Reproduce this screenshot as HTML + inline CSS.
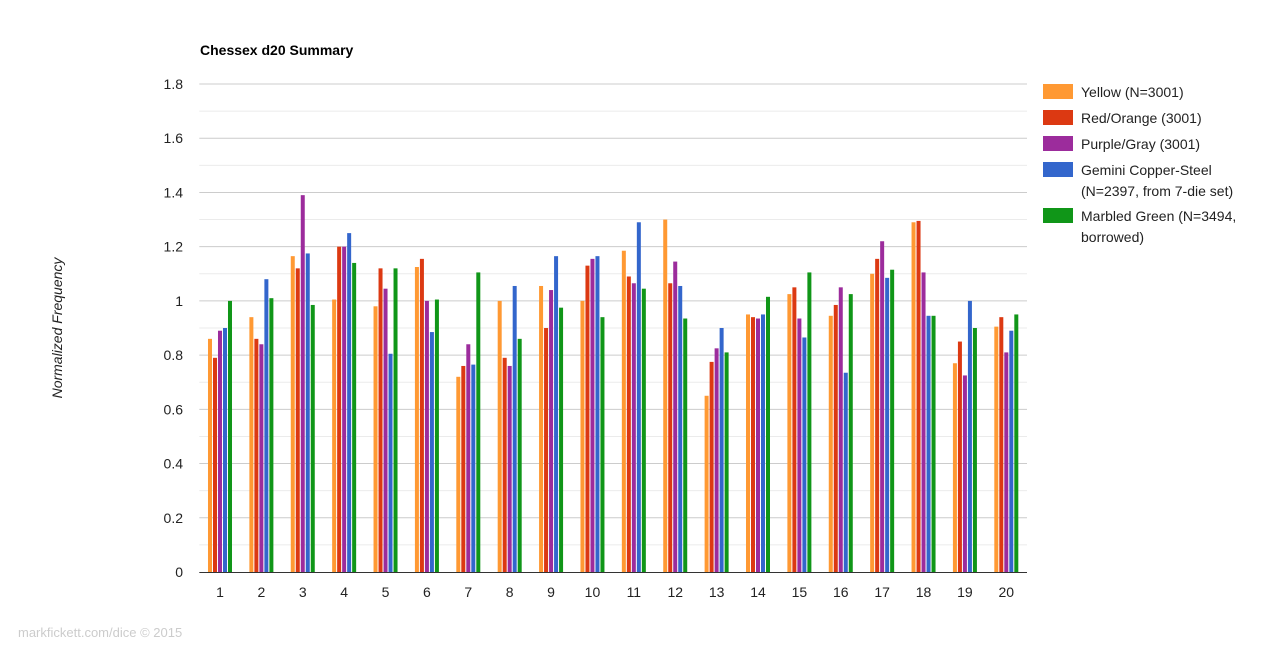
<!DOCTYPE html>
<html><head><meta charset="utf-8"><style>
body{margin:0;background:#fff;font-family:"Liberation Sans",Arial,sans-serif}
</style></head><body>
<svg width="1271" height="658" xmlns="http://www.w3.org/2000/svg" style="font-family:'Liberation Sans',Arial,sans-serif">
<text x="200" y="55" font-size="14" font-weight="bold" fill="#000">Chessex d20 Summary</text>
<text transform="translate(62,328) rotate(-90)" text-anchor="middle" font-size="14" font-style="italic" fill="#222">Normalized Frequency</text>
<text x="18" y="637" font-size="13" fill="#ccc">markfickett.com/dice © 2015</text>
<g id="grid"></g><g id="bars"></g><g id="xt"></g><g id="legend"></g>
</svg>
<script>
const categories=["1","2","3","4","5","6","7","8","9","10","11","12","13","14","15","16","17","18","19","20"];
const seriesNames=["Yellow (N=3001)","Red/Orange (3001)","Purple/Gray (3001)","Gemini Copper-Steel|(N=2397, from 7-die set)","Marbled Green (N=3494,|borrowed)"];
const yellow=[.86,.94,1.165,1.005,.98,1.125,.72,1.00,1.055,1.00,1.185,1.30,.65,.95,1.025,.945,1.10,1.29,.77,.905];
const red=[.79,.86,1.12,1.20,1.12,1.155,.76,.79,.90,1.13,1.09,1.065,.775,.94,1.05,.985,1.155,1.295,.85,.94];
const purple=[.89,.84,1.39,1.20,1.045,1.00,.84,.76,1.04,1.155,1.065,1.145,.825,.935,.935,1.05,1.22,1.105,.725,.81];
const blue=[.90,1.08,1.175,1.25,.805,.885,.765,1.055,1.165,1.165,1.29,1.055,.90,.95,.865,.735,1.085,.945,1.00,.89];
const green=[1.00,1.01,.985,1.14,1.12,1.005,1.105,.86,.975,.94,1.045,.935,.81,1.015,1.105,1.025,1.115,.945,.90,.95];
const yTicks=["0","0.2","0.4","0.6","0.8","1","1.2","1.4","1.6","1.8"];
const series=[yellow,red,purple,blue,green];
const colors=["#ff9933","#dc3912","#9c2c9c","#3366cc","#109618"];
const NS="http://www.w3.org/2000/svg";
const X0=199.3,X1=1027,Y0=572,YMAX=1.8,YTOP=84;
const y=v=>Y0-(v/YMAX)*(Y0-YTOP);
const step=(X1-X0)/categories.length;
const cx=i=>X0+step*(i+0.5);
function mk(t,a,p){const e=document.createElementNS(NS,t);for(const k in a)e.setAttribute(k,a[k]);p.appendChild(e);return e;}
const grid=document.getElementById('grid');
for(let k=1;k<=18;k++){const v=k/10;
 const l=mk('line',{x1:X0,x2:X1,y1:y(v),y2:y(v),stroke:k%2?'#ebebeb':'#cccccc','stroke-width':1},grid);
 
 }
yTicks.forEach(t=>{const e=mk('text',{x:183,y:y(parseFloat(t))+5,'text-anchor':'end','font-size':14,fill:'#222'},grid);e.textContent=t;
 
 });
const bars=document.getElementById('bars');
categories.forEach((c,i)=>{series.forEach((s,j)=>{
 const r=mk('rect',{x:cx(i)-12+j*5,y:y(s[i]),width:4,height:Y0-y(s[i]),fill:colors[j]},bars);
 
 });
 const t=mk('text',{x:cx(i),y:597,'text-anchor':'middle','font-size':14,fill:'#222'},document.getElementById('xt'));t.textContent=c;
 
 });
const ax=mk('line',{x1:X0,x2:X1,y1:Y0+0.5,y2:Y0+0.5,stroke:'#333','stroke-width':1},bars);


const lg=document.getElementById('legend');
const ly=[92,118,144,170,216];
seriesNames.forEach((n,j)=>{const g=mk('g',{},lg);
 
 
 mk('rect',{x:1043,y:ly[j]-8,width:30,height:15,fill:colors[j]},g);
 n.split('|').forEach((ln,k)=>{const t=mk('text',{x:1081,y:ly[j]+5+k*21,'font-size':14,fill:'#222'},g);t.textContent=ln;});});
</script>
</body></html>
